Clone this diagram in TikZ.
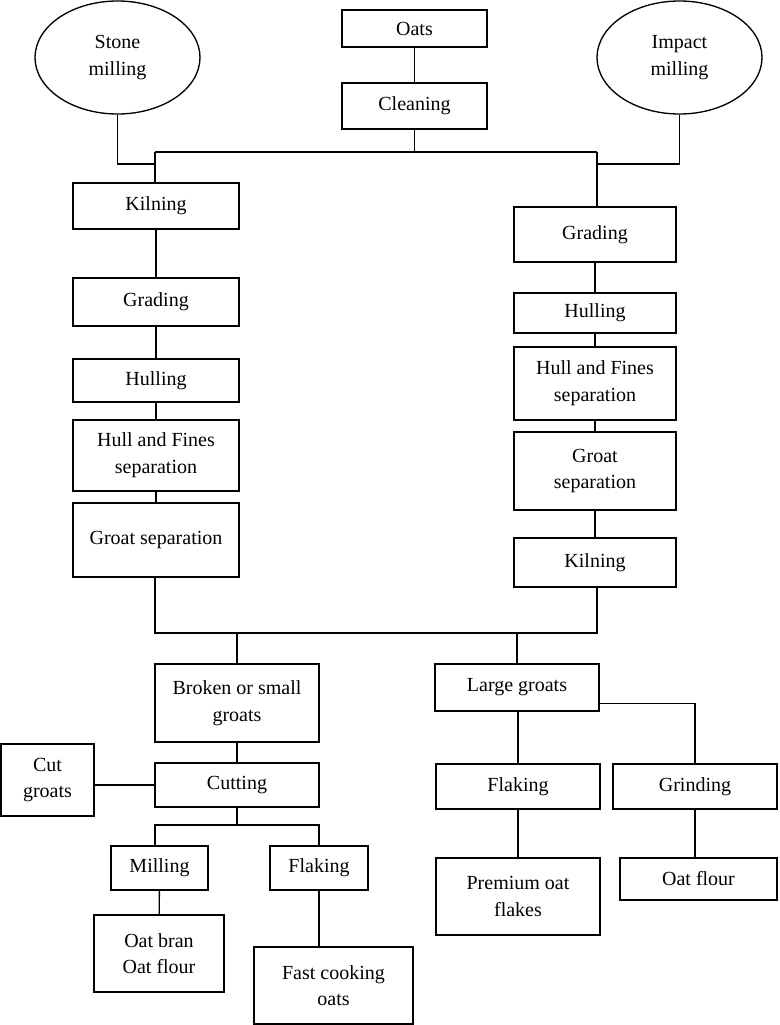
\documentclass[tikz,border=0pt]{standalone}
\usepackage{fontspec}
\setmainfont{Liberation Serif}
\usetikzlibrary{shapes.geometric,calc}
\tikzset{
  stage/.style={draw,align=center,inner sep=1pt,font=\fontsize{15}{20}\selectfont},
  boxsize/.style 2 args={minimum width=#1*0.75pt,minimum height=#2*0.75pt},
  mill/.style={ellipse,draw,align=center,inner sep=0pt,
    minimum width=123.75pt,minimum height=84.75pt,font=\fontsize{15}{20}\selectfont},
  link/.style={line width=1pt}
}
\begin{document}
\begin{tikzpicture}[x=0.75pt,y=-0.75pt,line width=1pt]
  \useasboundingbox (0,0) rectangle (779,1025);
  % top
  \node[stage,boxsize={145}{37}] (oats) at (414.5,28.5) {Oats};
  \node[stage,boxsize={145}{46}] (cleaning) at (414.5,106) {Cleaning};
  \node[mill] (stone) at (117.5,57.5) {Stone\\milling};
  \node[mill] (impact) at (679.5,57.5) {Impact\\milling};
  % left column
  \node[stage,boxsize={166}{46}] (kilnL) at (156,206) {Kilning};
  \node[stage,boxsize={166}{48}] (gradeL) at (156,302) {Grading};
  \node[stage,boxsize={166}{43}] (hullL) at (156,380.5) {Hulling};
  \node[stage,boxsize={166}{71}] (finesL) at (156,455.5) {Hull and Fines\\separation};
  \node[stage,boxsize={166}{74}] (groatL) at (156,540) {Groat separation};
  % right column
  \node[stage,boxsize={162}{55}] (gradeR) at (595,234.5) {Grading};
  \node[stage,boxsize={162}{40}] (hullR) at (595,313) {Hulling};
  \node[stage,boxsize={162}{73}] (finesR) at (595,383.5) {Hull and Fines\\separation};
  \node[stage,boxsize={162}{78}] (groatR) at (595,471) {Groat\\separation};
  \node[stage,boxsize={162}{49}] (kilnR) at (595,562.5) {Kilning};
  % products
  \node[stage,boxsize={164}{78}] (broken) at (237,703) {Broken or small\\groats};
  \node[stage,boxsize={164}{47}] (large) at (517,687.5) {Large groats};
  \node[stage,boxsize={93}{72}] (cutgroats) at (47.5,780) {Cut\\groats};
  \node[stage,boxsize={164}{44}] (cutting) at (237,785) {Cutting};
  \node[stage,boxsize={97}{44}] (milling) at (159.5,868) {Milling};
  \node[stage,boxsize={98}{44}] (flakeL) at (319,868) {Flaking};
  \node[stage,boxsize={130}{77}] (oatbran) at (159,953.5) {Oat bran\\Oat flour};
  \node[stage,boxsize={159}{77}] (fastcook) at (333.5,985.5) {Fast cooking\\oats};
  \node[stage,boxsize={164}{45}] (flakeR) at (518,786.5) {Flaking};
  \node[stage,boxsize={164}{45}] (grinding) at (695,786.5) {Grinding};
  \node[stage,boxsize={164}{77}] (premium) at (518,896.5) {Premium oat\\flakes};
  \node[stage,boxsize={157}{42}] (oatflour) at (698.5,879) {Oat flour};
  % junctions
  \coordinate (topL) at (155,152);
  \coordinate (topR) at (597,152);
  \coordinate (stoneJ) at (155,164);
  \coordinate (impactJ) at (597,164);
  \coordinate (botL) at (155,633);
  \coordinate (botR) at (597,633);
  \coordinate (cutJL) at (155,825);
  \coordinate (cutJR) at (319,825);
  % connectors
  \draw[link] (oats) -- (cleaning);
  \draw[link] (cleaning.south) -- (cleaning.south |- topL);
  \draw[link] (topL) -- (topR);
  \draw[link] (stone.south) |- (stoneJ);
  \draw[link] (impact.south) |- (impactJ);
  \draw[link] (topL) -- (topL |- kilnL.north);
  \draw[link] (topR) -- (topR |- gradeR.north);
  \draw[link] (kilnL) -- (gradeL) -- (hullL) -- (finesL) -- (groatL);
  \draw[link] (gradeR) -- (hullR) -- (finesR) -- (groatR) -- (kilnR);
  \draw[link] (botL |- groatL.south) -- (botL) -- (botR) -- (botR |- kilnR.south);
  \draw[link] (broken.north) -- (broken.north |- botL);
  \draw[link] (large.north) -- (large.north |- botL);
  \draw[link] (broken) -- (cutting);
  \draw[link] (cutting.west) -- (cutting.west -| cutgroats.east);
  \draw[link] (cutting.south) -- (cutting.south |- cutJL);
  \draw[link] (cutJL |- milling.north) -- (cutJL) -- (cutJR) -- (flakeL.north);
  \draw[link] (milling) -- (oatbran);
  \draw[link] (flakeL.south) -- (flakeL.south |- fastcook.north);
  \draw[link] (flakeR.north |- large.south) -- (flakeR.north);
  \draw[link] ($(large.east)!0.66!(large.south east)$) -| (grinding.north);
  \draw[link] (flakeR) -- (premium);
  \draw[link] (grinding.south) -- (grinding.south |- oatflour.north);
\end{tikzpicture}
\end{document}
